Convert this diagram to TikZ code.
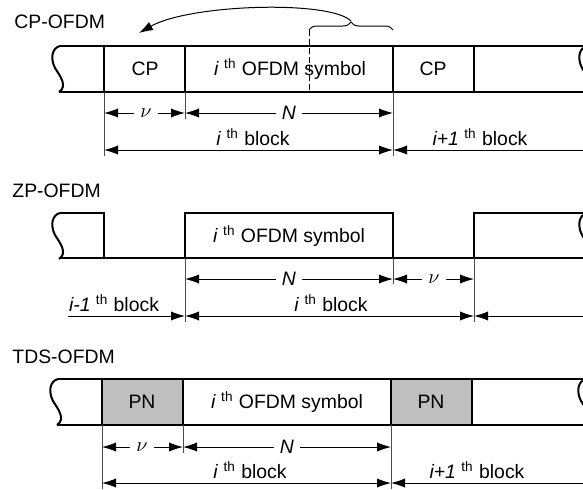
\documentclass[tikz,border=0pt]{standalone}
\usepackage{fontspec}
\setmainfont{Liberation Sans}
\usetikzlibrary{arrows.meta,decorations.pathreplacing}

\newcommand{\ordl}[1]{\textit{#1} \textsuperscript{th}}

\begin{document}
\begin{tikzpicture}[x=0.5pt, y=-0.5pt,
  frame/.style={black, line width=1pt},
  guide/.style={black!70, line width=0.5pt},
  dim/.style={black, line width=0.5pt, -{Latex[length=7pt,width=4.6pt]}},
  both/.style={black, line width=0.5pt, {Latex[length=7pt,width=4.6pt]}-{Latex[length=7pt,width=4.6pt]}},
  lbl/.style={font=\fontsize{9.7}{11}\selectfont, inner sep=0pt},
  sym/.style={lbl, inner sep=3pt},
  wavy/.pic={\draw[frame] (0,0) .. controls (-8,2) and (-10,12) .. (-5,22) .. controls (0,30) and (8,40) .. (-1,46);}]

\clip (0,0) rectangle (583,489);

% CP-OFDM
\node[lbl, anchor=west] (cptitle) at (14,22) {CP-OFDM};

\draw[frame] (60,46) -- (600,46);
\draw[frame] (59,92) -- (600,92);
\pic at (60,46) {wavy};
\pic at (587,46) {wavy};
\foreach \x in {104,185,393,474}
  \draw[frame] (\x,46) -- (\x,92);

\node[lbl] (cpa) at (145,69) {CP};
\node[lbl] (syma) at (290,69) {\ordl{i} OFDM symbol};
\node[lbl] (cpb) at (433,69) {CP};

\draw[black, line width=0.5pt, dash pattern=on 3pt off 1.5pt] (309,30) -- (309,92);
\draw[black, line width=0.5pt, decorate, decoration={brace, amplitude=4pt}] (309,30) -- (393,30);
\coordinate (tail) at (351,21);
\coordinate (head) at (139,33);
\draw[dim] (tail) .. controls (330,0) and (190,4) .. (head);

\draw[guide] (104,92) -- (104,156);
\draw[guide] (185,92) -- (185,119);
\draw[guide] (393,92) -- (393,156);

\coordinate (a0) at (104,113);
\coordinate (a1) at (185,113);
\coordinate (a2) at (393,113);
\node[sym] (nua) at (146,113) {$\nu$};
\node[sym] (na) at (289,113) {\textit{N}};
\draw[dim] (nua) -- (a0);
\draw[dim] (nua) -- (a1);
\draw[dim] (na) -- (a1);
\draw[dim] (na) -- (a2);

\node[lbl] (blka) at (253,137) {\ordl{i} block};
\node[lbl] (blkb) at (480,137) {\ordl{i+1} block};
\coordinate (b0) at (104,150);
\coordinate (b1) at (393,150);
\coordinate (b2) at (600,150);
\draw[both] (b0) -- (b1);
\draw[dim] (b2) -- (b1);

% ZP-OFDM
\node[lbl, anchor=west] (zptitle) at (12,191) {ZP-OFDM};

\pic at (60,213) {wavy};
\draw[frame] (60,213) -- (104,213) -- (104,258);
\draw[frame] (59,258) -- (600,258);
\draw[frame] (185,258) -- (185,213) -- (393,213) -- (393,258);
\draw[frame] (474,258) -- (474,213) -- (600,213);
\pic at (587,213) {wavy};

\node[lbl] (symb) at (289,236) {\ordl{i} OFDM symbol};

\draw[guide] (185,258) -- (185,322);
\draw[guide] (393,258) -- (393,284);
\draw[guide] (474,258) -- (474,322);

\coordinate (c0) at (185,279);
\coordinate (c1) at (393,279);
\coordinate (c2) at (474,279);
\node[sym] (nb) at (289,279) {\textit{N}};
\node[sym] (nub) at (434,279) {$\nu$};
\draw[dim] (nb) -- (c0);
\draw[dim] (nb) -- (c1);
\draw[dim] (nub) -- (c1);
\draw[dim] (nub) -- (c2);

\node[lbl] (blkc) at (114,303) {\ordl{i-1} block};
\node[lbl] (blkd) at (331,303) {\ordl{i} block};
\coordinate (d0) at (68,316);
\coordinate (d1) at (185,316);
\coordinate (d2) at (474,316);
\coordinate (d3) at (600,316);
\draw[dim] (d0) -- (d1);
\draw[both] (d1) -- (d2);
\draw[dim] (d3) -- (d2);

% TDS-OFDM
\node[lbl, anchor=west] (tdstitle) at (12,357) {TDS-OFDM};

\fill[black!25] (102,379) rectangle (183,425);
\fill[black!25] (391,379) rectangle (472,425);
\draw[frame] (58,379) -- (600,379);
\draw[frame] (57,425) -- (600,425);
\pic at (58,379) {wavy};
\pic at (586,379) {wavy};
\foreach \x in {102,183,391,472}
  \draw[frame] (\x,379) -- (\x,425);

\node[lbl] (pna) at (142,402) {PN};
\node[lbl] (symc) at (287,402) {\ordl{i} OFDM symbol};
\node[lbl] (pnb) at (431,402) {PN};

\draw[guide] (102,425) -- (102,489);
\draw[guide] (183,425) -- (183,453);
\draw[guide] (391,425) -- (391,489);

\coordinate (e0) at (102,447);
\coordinate (e1) at (183,447);
\coordinate (e2) at (391,447);
\node[sym] (nuc) at (142,447) {$\nu$};
\node[sym] (nc) at (287,447) {\textit{N}};
\draw[dim] (nuc) -- (e0);
\draw[dim] (nuc) -- (e1);
\draw[dim] (nc) -- (e1);
\draw[dim] (nc) -- (e2);

\node[lbl] (blke) at (250,470) {\ordl{i} block};
\node[lbl] (blkf) at (477,470) {\ordl{i+1} block};
\coordinate (f0) at (102,483);
\coordinate (f1) at (391,483);
\coordinate (f2) at (600,483);
\draw[both] (f0) -- (f1);
\draw[dim] (f2) -- (f1);

\end{tikzpicture}
\end{document}
